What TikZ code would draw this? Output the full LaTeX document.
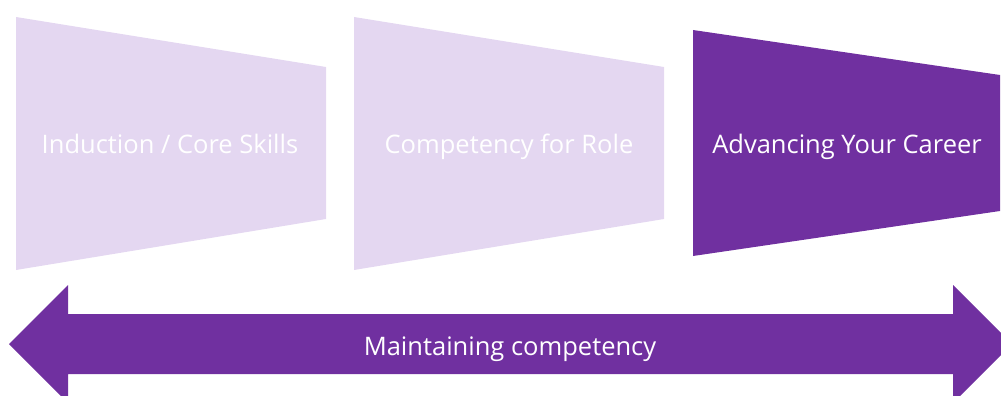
\documentclass[tikz,border=0pt]{standalone}
\usepackage{fontspec}
\setmainfont{Open Sans}
\usepackage{tikz}
\usetikzlibrary{positioning, calc}

\definecolor{stagedark}{HTML}{7030A0}
\definecolor{stagelight}{HTML}{E4D7F1}

\begin{document}
\begin{tikzpicture}[x=1pt, y=-1pt,
      stagelightfill/.style={fill=stagelight, draw=none},
      stagedarkfill/.style={fill=stagedark, draw=none},
      stagelabel/.style={text=white, anchor=base, font=\fontsize{25.5pt}{30pt}\selectfont, inner sep=0pt},
      bandlabel/.style={text=white, anchor=base, font=\fontsize{25.5pt}{30pt}\selectfont, inner sep=0pt} ]

    \useasboundingbox (0,0) rectangle (1001,396);

    % Stages
    \fill[stagelightfill] (16,17) -- (326,67) -- (326,219) -- (16,270) -- cycle;
    \fill[stagelightfill] (354,17) -- (664,67) -- (664,219) -- (354,270) -- cycle;
    \fill[stagedarkfill] (693,30) -- (1000,75) -- (1000,211) -- (693,256) -- cycle;

    % Labels inside stages
    \node[stagelabel] (induction) at (170,153) {Induction / Core Skills};
    \node[stagelabel] (role) at (509,153) {Competency for Role};
    \node[stagelabel] (career) at (847,153) {Advancing Your Career};

    % Double arrow along the bottom
    \fill[stagedarkfill] (9,344) -- (68,285) -- (68,314) -- (953,314) -- (953,285)
      -- (1012,344) -- (953,403) -- (953,374) -- (68,374) -- (68,403) -- cycle;

    \node[bandlabel] (maintain) at (510,355) {Maintaining competency};

\end{tikzpicture}
\end{document}
